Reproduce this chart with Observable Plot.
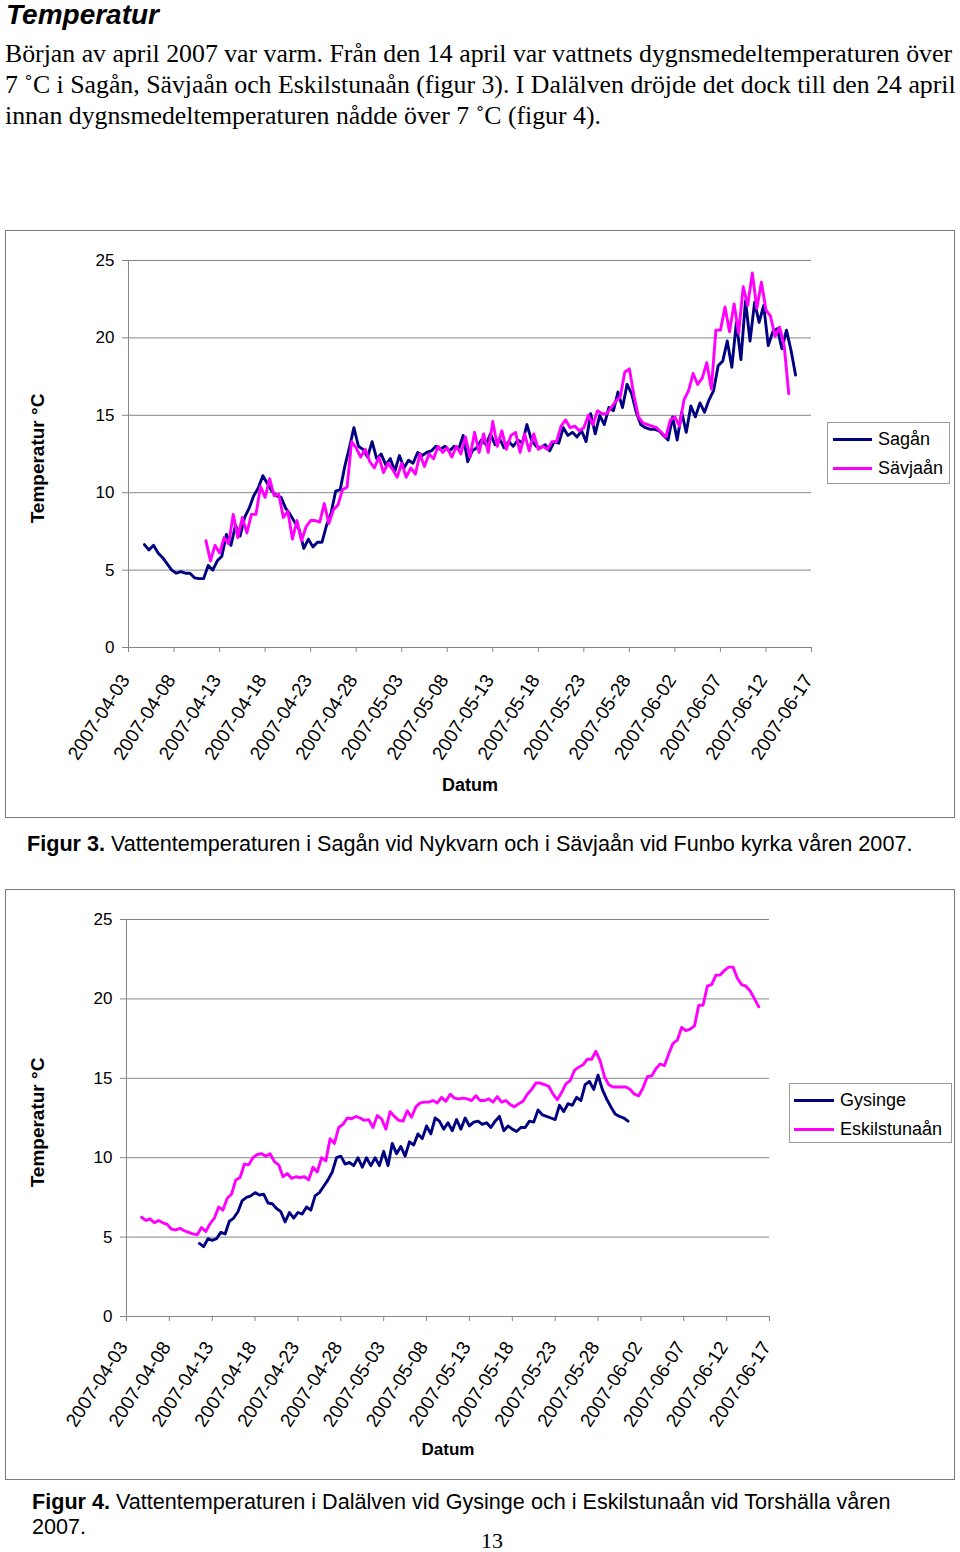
<!DOCTYPE html>
<html><head><meta charset="utf-8">
<script src="https://cdn.jsdelivr.net/npm/d3@7"></script>
<script src="https://cdn.jsdelivr.net/npm/@observablehq/plot@0.6"></script>
<style>
html,body{margin:0;padding:0;background:#fff;}
body{width:960px;height:1552px;position:relative;overflow:hidden;font-family:"Liberation Sans",Arial,sans-serif;color:#000;}
.abs{position:absolute;}
#title{left:6px;top:1px;font:italic bold 28px/28px "Liberation Sans",Arial,sans-serif;white-space:nowrap;}
#para{left:5px;top:38px;font:25.8px/31px "Liberation Serif","Times New Roman",serif;white-space:nowrap;}
.frame{border:1px solid #7a7a7a;box-sizing:border-box;}
.legend{border:1px solid #9a9a9a;box-sizing:border-box;background:#fff;}
.sw{position:absolute;height:3px;}
.lt{position:absolute;font:18px/18px "Liberation Sans",Arial,sans-serif;white-space:nowrap;}
.cap{font:21.6px/25px "Liberation Sans",Arial,sans-serif;white-space:nowrap;}
#pagenum{left:472px;width:40px;text-align:center;top:1530px;font:22px/22px "Liberation Serif","Times New Roman",serif;}
#err{left:10px;top:300px;color:red;font:12px monospace;white-space:pre;}
#c1 svg,#c2 svg{max-width:none !important;display:block;}
</style>
</head><body>
<div id="title" class="abs">Temperatur</div>
<div id="para" class="abs">Början av april 2007 var varm. Från den 14 april var vattnets dygnsmedeltemperaturen över<br>7 ˚C i Sagån, Sävjaån och Eskilstunaån (figur 3). I Dalälven dröjde det dock till den 24 april<br>innan dygnsmedeltemperaturen nådde över 7 ˚C (figur 4).</div>
<div class="abs frame" style="left:5px;top:230px;width:950px;height:588px;"></div>
<div class="abs frame" style="left:5px;top:889px;width:950px;height:591px;"></div>
<div id="c1" class="abs" style="left:5px;top:230px;width:950px;height:588px;"></div>
<div id="c2" class="abs" style="left:5px;top:889px;width:950px;height:591px;"></div>
<div class="abs cap" style="left:27px;top:831px;"><b>Figur 3.</b> Vattentemperaturen i Sagån vid Nykvarn och i Sävjaån vid Funbo kyrka våren 2007.</div>
<div class="abs cap" style="left:32px;top:1489px;"><b>Figur 4.</b> Vattentemperaturen i Dalälven vid Gysinge och i Eskilstunaån vid Torshälla våren<br>2007.</div>
<div id="pagenum" class="abs">13</div>
<div id="err" class="abs"></div>
<script>
// ---- data ----
const tickDates = ["2007-04-03","2007-04-08","2007-04-13","2007-04-18","2007-04-23","2007-04-28","2007-05-03","2007-05-08","2007-05-13","2007-05-18","2007-05-23","2007-05-28","2007-06-02","2007-06-07","2007-06-12","2007-06-17"];
const yTicks = [0, 5, 10, 15, 20, 25];
const stepHours = 12;

const seriesNames1 = ["Sagån", "Sävjaån"];
const seriesNames2 = ["Gysinge", "Eskilstunaån"];
const seriesColors = ["#000080", "#ff00ff"];

const saganStart = "2007-04-04T18:00Z";
const sagan = [
6.65, 6.3, 6.6, 6.1, 5.8, 5.4, 5.0, 4.8, 4.9, 4.8,
4.8, 4.5, 4.45, 4.45, 5.3, 5.0, 5.6, 5.9, 7.3, 6.6,
7.9, 7.2, 8.4, 9.0, 9.8, 10.3, 11.1, 10.6, 10.1, 9.8,
9.7, 9.0, 8.6, 8.1, 7.6, 6.4, 7.0, 6.5, 6.8, 6.8,
7.9, 8.7, 10.1, 10.2, 11.7, 12.9, 14.2, 13.0, 12.8, 12.3,
13.3, 12.2, 12.5, 11.8, 12.2, 11.4, 12.4, 11.6, 12.1, 11.9,
12.6, 12.4, 12.6, 12.7, 13.0, 12.8, 13.0, 12.7, 13.0, 12.8,
13.7, 12.0, 12.7, 12.9, 13.4, 13.1, 13.8, 13.1, 13.5, 12.9,
13.3, 13.0, 13.4, 13.2, 14.4, 13.4, 13.0, 12.9, 13.1, 12.7,
13.3, 13.2, 14.2, 13.7, 13.9, 13.6, 14.0, 13.3, 15.1, 13.8,
15.0, 14.4, 15.5, 15.3, 16.5, 15.5, 17.0, 16.4, 15.2, 14.4,
14.2, 14.1, 14.1, 14.0, 13.7, 13.4, 14.9, 13.4, 15.2, 13.9,
15.6, 14.9, 15.8, 15.2, 16.0, 16.6, 18.2, 18.5, 19.8, 18.1,
21.0, 18.6, 22.4, 19.8, 22.3, 21.0, 22.1, 19.5, 20.4, 20.6,
19.3, 20.5, 19.2, 17.6
];

const savjaanStart = "2007-04-11T12:00Z";
const savjaan = [
6.9, 5.6, 6.6, 6.1, 7.1, 6.7, 8.6, 7.1, 8.4, 7.4,
8.6, 8.6, 10.4, 9.7, 10.9, 9.8, 9.9, 8.4, 8.8, 7.0,
8.2, 6.9, 7.8, 8.2, 8.2, 8.1, 9.3, 8.0, 8.9, 9.2,
10.2, 10.35, 13.3, 12.9, 12.3, 12.8, 12.0, 11.6, 12.3, 11.3,
11.9, 11.5, 11.0, 11.9, 11.0, 11.6, 11.2, 12.5, 11.7, 12.5,
12.2, 13.0, 12.6, 12.9, 12.3, 13.0, 12.5, 13.6, 12.3, 13.9,
12.6, 13.8, 12.6, 14.6, 13.0, 14.0, 12.8, 13.7, 13.9, 12.6,
13.8, 12.7, 13.8, 12.8, 13.0, 12.8, 13.3, 13.3, 14.3, 14.7,
14.2, 14.3, 14.0, 14.2, 15.0, 14.4, 15.3, 15.1, 15.1, 15.5,
15.9, 16.2, 17.8, 18.0, 16.3, 14.9, 14.5, 14.4, 14.3, 14.2,
13.9, 13.6, 14.7, 14.9, 14.3, 16.0, 16.6, 17.7, 17.0, 17.4,
18.4, 16.7, 20.5, 20.5, 22.0, 20.4, 22.2, 20.3, 23.3, 22.1,
24.2, 21.9, 23.6, 21.8, 21.4, 20.1, 20.7, 19.5, 16.4
];

const gysingeStart = "2007-04-11T12:00Z";
const gysinge = [
4.6, 4.4, 4.9, 4.8, 4.9, 5.3, 5.2, 6.0, 6.2, 6.6,
7.3, 7.5, 7.6, 7.8, 7.65, 7.7, 7.15, 7.1, 6.8, 6.6,
5.95, 6.55, 6.2, 6.55, 6.45, 6.9, 6.7, 7.6, 7.8, 8.2,
8.6, 9.1, 10.0, 10.1, 9.6, 9.7, 9.5, 10.0, 9.4, 10.0,
9.5, 10.0, 9.5, 10.4, 9.5, 10.9, 10.25, 10.7, 10.1, 11.0,
10.8, 11.5, 11.2, 12.0, 11.5, 12.5, 12.3, 11.8, 12.2, 11.7,
12.4, 11.8, 12.5, 12.0, 12.24, 12.3, 12.1, 12.2, 11.9, 12.3,
12.6, 11.7, 12.0, 11.8, 11.65, 11.9, 11.9, 12.3, 12.24, 13.0,
12.7, 12.6, 12.5, 12.4, 13.3, 12.9, 13.4, 13.3, 13.8, 13.6,
14.6, 14.8, 14.3, 15.2, 14.3, 13.7, 13.2, 12.75, 12.6, 12.5,
12.3
];

const eskilStart = "2007-04-04T18:00Z";
const eskilstunaan = [
6.25, 6.05, 6.15, 5.9, 6.05, 5.9, 5.8, 5.5, 5.45, 5.55,
5.4, 5.3, 5.2, 5.15, 5.6, 5.35, 5.85, 6.2, 6.9, 6.7,
7.45, 7.7, 8.6, 8.75, 9.6, 9.55, 10.0, 10.2, 10.25, 10.1,
10.25, 9.75, 9.55, 8.8, 9.0, 8.7, 8.8, 8.75, 8.8, 8.6,
9.4, 9.1, 10.0, 9.8, 11.2, 10.9, 11.9, 12.1, 12.5, 12.45,
12.6, 12.5, 12.35, 12.4, 11.9, 12.65, 12.45, 11.8, 12.9, 12.6,
12.35, 12.3, 12.95, 12.55, 13.2, 13.45, 13.5, 13.5, 13.6, 13.45,
13.8, 13.55, 14.0, 13.75, 13.7, 13.75, 13.7, 13.6, 13.9, 13.6,
13.6, 13.7, 13.5, 13.85, 13.5, 13.6, 13.35, 13.2, 13.4, 13.55,
14.0, 14.3, 14.7, 14.7, 14.6, 14.5, 14.0, 13.65, 14.1, 14.65,
14.85, 15.5, 15.7, 15.85, 16.2, 16.2, 16.7, 16.1, 15.1, 14.6,
14.45, 14.45, 14.45, 14.45, 14.3, 14.0, 13.9, 14.4, 15.1, 15.15,
15.6, 15.9, 15.8, 16.55, 17.2, 17.4, 18.2, 18.0, 18.1, 18.3,
19.6, 19.6, 20.8, 20.9, 21.5, 21.5, 21.8, 22.0, 22.0, 21.3,
20.9, 20.8, 20.5, 20.0, 19.5
];

// ---- build ----
function toRows(start, values, name) {
  const t0 = new Date(start).getTime();
  return values.map((v, i) => ({date: new Date(t0 + i * stepHours * 3600e3), value: v, name}));
}

const GRID = "#868686";
function makeChart(o) {
  const rows = o.series.flatMap(s => toRows(s.start, s.values, s.name));
  const domain = [new Date(tickDates[0]), new Date(tickDates[tickDates.length - 1])];
  const svg = Plot.plot({
    width: o.width, height: o.height,
    marginLeft: o.ml, marginRight: o.mr, marginTop: o.mt, marginBottom: o.mb,
    style: {fontFamily: "'Liberation Sans', Arial, sans-serif", color: "#000", background: "transparent", overflow: "visible", fontSize: o.xfs + "px"},
    x: {type: "utc", domain, ticks: tickDates.map(d => new Date(d)), tickFormat: d3.utcFormat("%Y-%m-%d"),
        tickSize: 5, tickPadding: o.xpad, tickRotate: -57, label: null},
    y: {domain: [0, 25], ticks: yTicks, tickSize: 6, tickPadding: 8, label: null},
    color: {domain: o.names, range: seriesColors},
    marks: [
      Plot.ruleY(yTicks, {stroke: GRID, strokeWidth: 1}),
      Plot.ruleX([domain[0]], {stroke: GRID, strokeWidth: 1}),
      Plot.line(rows, {x: "date", y: "value", z: "name", stroke: "name", strokeWidth: 2.9, strokeLinejoin: "round"}),
      Plot.text([o.ytitle], {text: d => d, frameAnchor: "left", textAnchor: "middle", rotate: -90, dx: o.ytdx, dy: o.ytdy, fontWeight: "bold", fontSize: 19}),
      Plot.text([o.xtitle], {text: d => d, frameAnchor: "bottom", dy: o.xtdy, fontWeight: "bold", fontSize: o.xtfs})
    ]
  });
  svg.querySelectorAll('g[aria-label="x-axis"], g[aria-label="y-axis"], g[aria-label="x-axis tick"], g[aria-label="y-axis tick"]').forEach(g => {
    if (g.getAttribute("stroke") === "currentColor") g.setAttribute("stroke", GRID);
    g.querySelectorAll("path,line").forEach(p => p.setAttribute("stroke", GRID));
  });
  svg.querySelectorAll('g[aria-label="y-axis"] text, g[aria-label="y-axis tick label"]').forEach(t => t.setAttribute("font-size", o.yfs));
  // nudge rotated date labels like the original layout
  svg.querySelectorAll('g[aria-label="x-axis tick label"] text, g[aria-label="x-axis"] .tick text').forEach(t => {
    t.setAttribute("transform", `translate(${o.xdx},${o.xdy}) ` + (t.getAttribute("transform") || ""));
  });
  svg.style.maxWidth = "none";
  return svg;
}

function addLegend(left, top, w, h, names, rowsY, lineX0, lineX1, textX) {
  const box = document.createElement("div");
  box.className = "abs legend";
  Object.assign(box.style, {left: left + "px", top: top + "px", width: w + "px", height: h + "px"});
  document.body.appendChild(box);
  names.forEach((n, i) => {
    const sw = document.createElement("div");
    sw.className = "sw";
    Object.assign(sw.style, {left: lineX0 + "px", top: (rowsY[i] - 1.5) + "px", width: (lineX1 - lineX0) + "px", background: seriesColors[i]});
    document.body.appendChild(sw);
    const t = document.createElement("div");
    t.className = "lt";
    t.textContent = n;
    Object.assign(t.style, {left: textX + "px", top: (rowsY[i] - 9) + "px"});
    document.body.appendChild(t);
  });
}

try {
  const c1 = makeChart({
    width: 950, height: 588, ml: 123, mr: 144, mt: 30, mb: 171,
    names: seriesNames1,
    series: [{name: seriesNames1[0], start: saganStart, values: sagan},
             {name: seriesNames1[1], start: savjaanStart, values: savjaan}],
    yfs: 17, xfs: 19, xpad: 20, xdx: -3, xdy: 4, ytitle: "Temperatur °C", ytdx: -91, ytdy: 4.5,
    xtitle: "Datum", xtdy: 143, xtfs: 18
  });
  document.getElementById("c1").appendChild(c1);

  const c2 = makeChart({
    width: 950, height: 591, ml: 121, mr: 186, mt: 30, mb: 164,
    names: seriesNames2,
    series: [{name: seriesNames2[0], start: gysingeStart, values: gysinge},
             {name: seriesNames2[1], start: eskilStart, values: eskilstunaan}],
    yfs: 17, xfs: 19, xpad: 18, xdx: -3, xdy: 4, ytitle: "Temperatur °C", ytdx: -89, ytdy: 4.5,
    xtitle: "Datum", xtdy: 138, xtfs: 17
  });
  document.getElementById("c2").appendChild(c2);
} catch (e) {
  document.getElementById("err").textContent = String(e && e.stack || e);
}

addLegend(827, 422, 123, 62, seriesNames1, [439, 468], 833, 872, 878);
addLegend(789, 1083, 163, 60, seriesNames2, [1100, 1129], 794, 834, 840);
</script>
</body></html>
